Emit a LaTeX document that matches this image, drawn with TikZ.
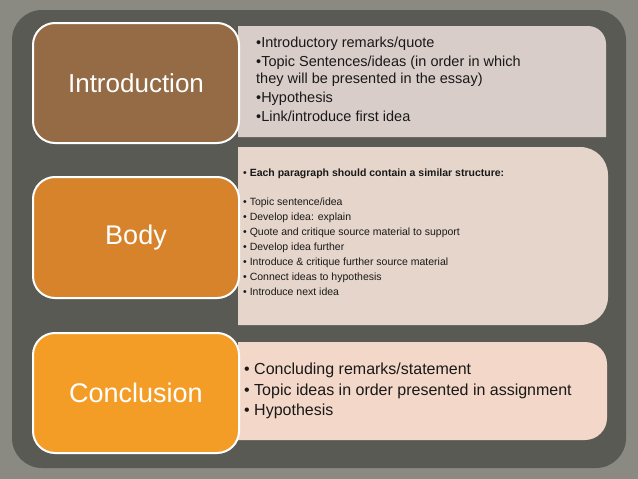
\documentclass[tikz,border=0pt]{standalone}
\usepackage{fontspec}
\setmainfont{Liberation Sans}
\definecolor{bgout}{HTML}{8A8A83}
\definecolor{panel}{HTML}{5A5A55}
\definecolor{cintro}{HTML}{946B45}
\definecolor{cbody}{HTML}{D6832B}
\definecolor{cconc}{HTML}{F49D26}
\definecolor{rintro}{HTML}{D9CDC9}
\definecolor{rbody}{HTML}{E5D5CB}
\definecolor{rconc}{HTML}{F3D7C8}
\tikzset{
  lbl/.style={draw=white, line width=2pt, rounded corners=22pt, text=white, align=center, anchor=north west, inner sep=0pt},
  rtxt/.style={anchor=west, align=left, inner sep=0pt, text=black!90},
}
\begin{document}
\begin{tikzpicture}[x=1pt,y=-1pt]
\useasboundingbox (0,0) rectangle (638,479);
\fill[bgout] (0,0) rectangle (638,479);
\fill[panel, rounded corners=30pt] (12,10) rectangle (626,468);
% right boxes
\fill[rintro] (238,26) -- (588,26) to[out=0,in=90] (606,44) -- (606,137) -- (238,137) -- cycle;
\fill[rbody] (238,147) -- (580,147) to[out=0,in=90] (608,175) -- (608,297) to[out=-90,in=0] (580,325) -- (238,325) -- cycle;
\fill[rconc] (238,342) -- (585,342) to[out=0,in=90] (607,364) -- (607,418) to[out=-90,in=0] (585,440) -- (238,440) -- cycle;
% left boxes
\node[lbl, fill=cintro, minimum width=206pt, minimum height=120pt, font=\fontsize{26}{30}\selectfont] (intro) at (32,22) {Introduction};
\node[lbl, fill=cbody, minimum width=206pt, minimum height=121pt, font=\fontsize{27}{30}\selectfont] (body) at (32,176) {Body};
\node[lbl, fill=cconc, minimum width=206pt, minimum height=120pt, font=\fontsize{27}{30}\selectfont] (conc) at (32,332) {Conclusion};
% texts
\node[rtxt, font=\fontsize{14.5}{17}\selectfont] (itext) at (256,79) {%
\textbullet Introductory remarks/quote\\[2pt]
\textbullet Topic Sentences/ideas (in order in which\\
they will be presented in the essay)\\[2pt]
\textbullet Hypothesis\\[2pt]
\textbullet Link/introduce first idea};
\node[rtxt, anchor=north west, font=\fontsize{10.5}{15}\selectfont] (btext) at (243,169) {%
\textbullet\ \textbf{Each paragraph should contain a similar structure:}\\[14pt]
\textbullet\ Topic sentence/idea\\
\textbullet\ Develop idea: explain\\
\textbullet\ Quote and critique source material to support\\
\textbullet\ Develop idea further\\
\textbullet\ Introduce \& critique further source material\\
\textbullet\ Connect ideas to hypothesis\\
\textbullet\ Introduce next idea};
\node[rtxt, font=\fontsize{16}{20.5}\selectfont] (ctext) at (244,391) {%
\textbullet\ Concluding remarks/statement\\
\textbullet\ Topic ideas in order presented in assignment\\
\textbullet\ Hypothesis};
\end{tikzpicture}
\end{document}
